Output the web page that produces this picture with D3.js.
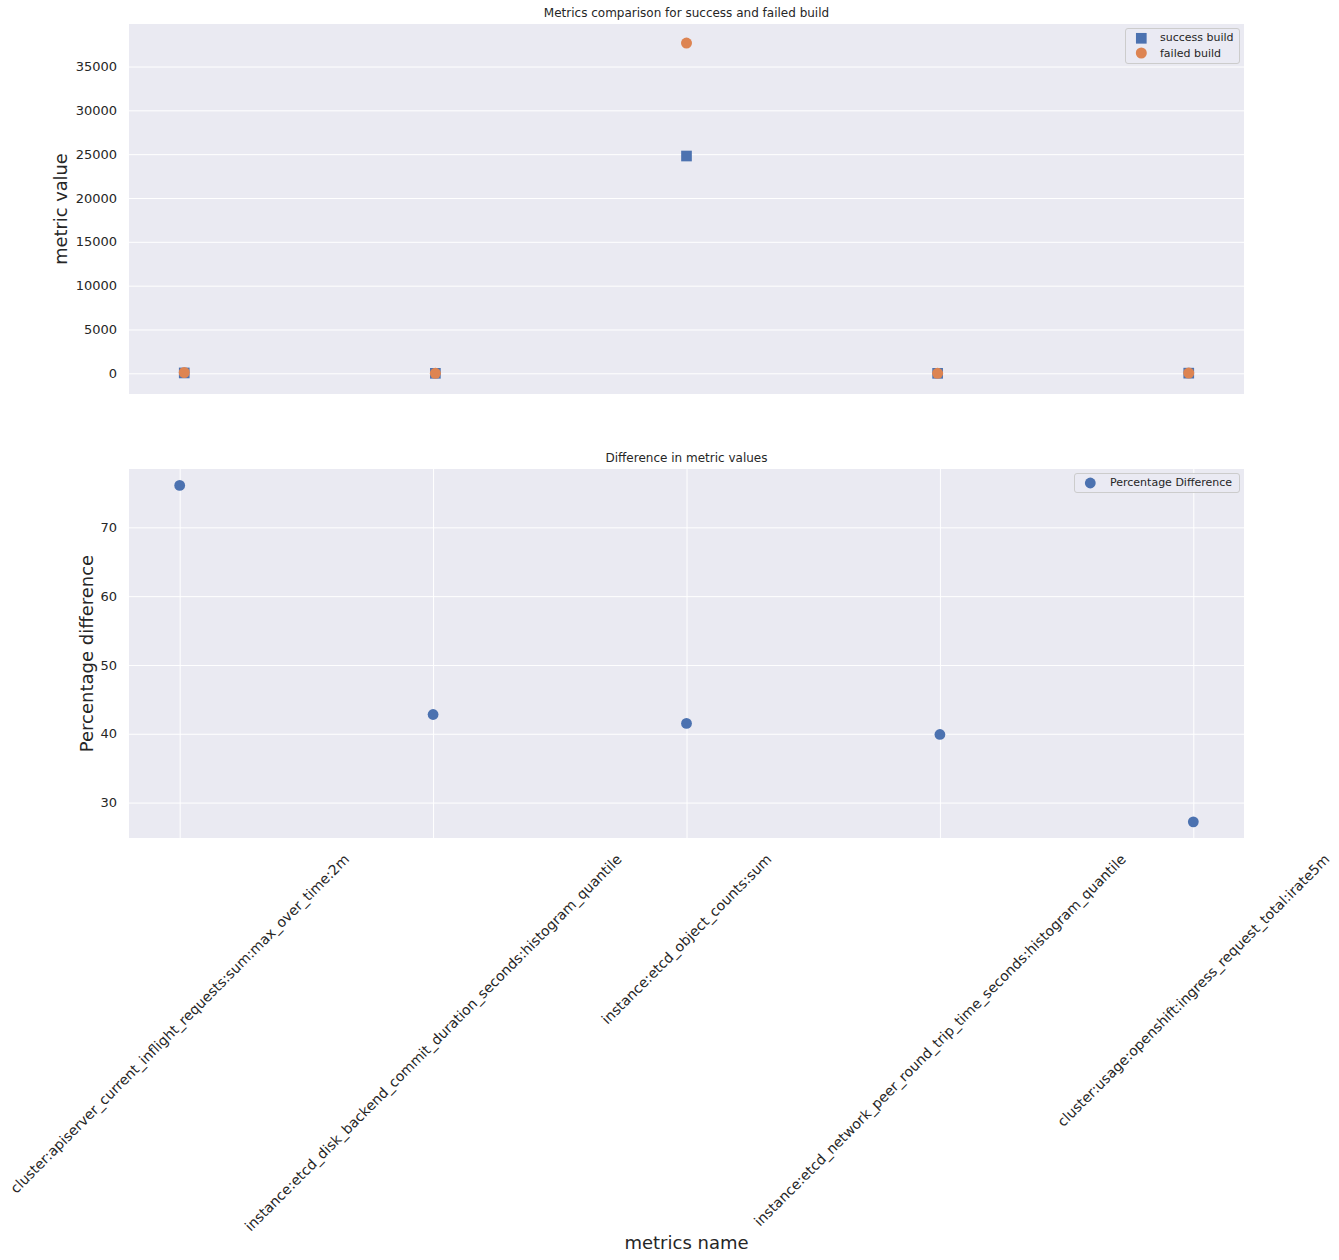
<!DOCTYPE html>
<html><head><meta charset="utf-8">
<script src="https://cdn.jsdelivr.net/npm/d3@7"></script>
<style>
body{margin:0;background:#fff}
text{font-family:"DejaVu Sans",sans-serif;fill:#262626}
</style>
</head><body>
<svg id="c" width="1339" height="1260"></svg>
<script>
const categories = [
  "cluster:apiserver_current_inflight_requests:sum:max_over_time:2m",
  "instance:etcd_disk_backend_commit_duration_seconds:histogram_quantile",
  "instance:etcd_object_counts:sum",
  "instance:etcd_network_peer_round_trip_time_seconds:histogram_quantile",
  "cluster:usage:openshift:ingress_request_total:irate5m"
];
const successValues = [42, 0.012, 24790, 0.009, 18];
const failedValues = [94, 0.019, 37680, 0.014, 24];
const percentDiff = [76.1, 42.8, 41.5, 39.9, 27.2];
const topTicks = [0, 5000, 10000, 15000, 20000, 25000, 30000, 35000];
const bottomTicks = [30, 40, 50, 60, 70];

const BLUE = "#4C72B0", ORANGE = "#DD8452", BG = "#EAEAF2";
const svg = d3.select("#c");
const L = 129, R = 1244;

// ---------- Top panel ----------
const t = {top: 24, bottom: 394};
const xT = d3.scaleLinear().domain([-0.22, 4.22]).range([L, R]);
const yT = d3.scaleLinear().domain([-2360, 39850]).range([t.bottom, t.top]);
svg.append("rect").attr("x", L).attr("y", t.top).attr("width", R - L).attr("height", t.bottom - t.top).attr("fill", BG);
const gyT = svg.append("g").attr("transform", `translate(${L},0)`)
  .call(d3.axisLeft(yT).tickValues(topTicks).tickSize(-(R - L)).tickPadding(12).tickFormat(d3.format("d")));
gyT.select(".domain").remove();
gyT.selectAll(".tick line").attr("stroke", "#fff").attr("stroke-width", 1);
gyT.selectAll(".tick text").attr("font-size", 13).attr("fill", "#262626").style("font-family", "DejaVu Sans");

svg.append("g").selectAll("path").data(successValues).join("path")
  .attr("d", d3.symbol(d3.symbolSquare, 114))
  .attr("transform", (d, i) => `translate(${xT(i)},${yT(d)})`)
  .attr("fill", BLUE);
svg.append("g").selectAll("circle").data(failedValues).join("circle")
  .attr("cx", (d, i) => xT(i)).attr("cy", d => yT(d)).attr("r", 5.5)
  .attr("fill", ORANGE);

svg.append("text").attr("x", (L + R) / 2).attr("y", 17).attr("text-anchor", "middle")
  .attr("font-size", 12).text("Metrics comparison for success and failed build");
svg.append("text").attr("transform", `translate(67,${(t.top + t.bottom) / 2}) rotate(-90)`)
  .attr("text-anchor", "middle").attr("font-size", 17.8).text("metric value");

// legend top
const lg = svg.append("g");
lg.append("rect").attr("x", 1125.5).attr("y", 28.5).attr("width", 114).attr("height", 35).attr("rx", 2.5)
  .attr("fill", BG).attr("fill-opacity", 0.8).attr("stroke", "#cccccc");
lg.append("path").attr("d", d3.symbol(d3.symbolSquare, 114)).attr("transform", "translate(1141.3,38.3)").attr("fill", BLUE);
lg.append("circle").attr("cx", 1141.3).attr("cy", 53).attr("r", 5.5).attr("fill", ORANGE);
lg.append("text").attr("x", 1160).attr("y", 37.5).attr("dy", "0.35em").attr("font-size", 11).text("success build");
lg.append("text").attr("x", 1160).attr("y", 53).attr("dy", "0.35em").attr("font-size", 11).text("failed build");

// ---------- Bottom panel ----------
const b = {top: 469, bottom: 838};
const xB = d3.scaleLinear().domain([-0.2, 4.2]).range([L, R]);
const yB = d3.scaleLinear().domain([24.85, 78.48]).range([b.bottom, b.top]);
svg.append("rect").attr("x", L).attr("y", b.top).attr("width", R - L).attr("height", b.bottom - b.top).attr("fill", BG);
const gyB = svg.append("g").attr("transform", `translate(${L},0)`)
  .call(d3.axisLeft(yB).tickValues(bottomTicks).tickSize(-(R - L)).tickPadding(12));
gyB.select(".domain").remove();
gyB.selectAll(".tick line").attr("stroke", "#fff").attr("stroke-width", 1);
gyB.selectAll(".tick text").attr("font-size", 13).attr("fill", "#262626").style("font-family", "DejaVu Sans");
const gxB = svg.append("g").attr("transform", `translate(0,${b.bottom})`)
  .call(d3.axisBottom(xB).tickValues(d3.range(categories.length)).tickSize(-(b.bottom - b.top)).tickFormat(""));
gxB.select(".domain").remove();
gxB.selectAll(".tick line").attr("stroke", "#fff").attr("stroke-width", 1);

svg.append("g").selectAll("circle").data(percentDiff).join("circle")
  .attr("cx", (d, i) => xB(i)).attr("cy", d => yB(d)).attr("r", 5.4).attr("fill", BLUE);

svg.append("text").attr("x", (L + R) / 2).attr("y", 462).attr("text-anchor", "middle")
  .attr("font-size", 12).text("Difference in metric values");
svg.append("text").attr("transform", `translate(93,${(b.top + b.bottom) / 2}) rotate(-90)`)
  .attr("text-anchor", "middle").attr("font-size", 18).text("Percentage difference");

// rotated category labels
const labTop = 851;
const lab = svg.append("g");
categories.forEach((c, i) => {
  const tx = lab.append("text").attr("font-size", 14).attr("text-anchor", "middle").attr("dominant-baseline", "central").text(c);
  const w = tx.node().getComputedTextLength();
  const h = 16;
  const half = (w + h) / (2 * Math.SQRT2);
  tx.attr("transform", `translate(${xB(i)},${labTop + half}) rotate(-45)`);
});

svg.append("text").attr("x", (L + R) / 2).attr("y", 1249).attr("text-anchor", "middle")
  .attr("font-size", 18).text("metrics name");

// legend bottom
const lb = svg.append("g");
lb.append("rect").attr("x", 1074.5).attr("y", 473.5).attr("width", 165).attr("height", 19).attr("rx", 2.5)
  .attr("fill", BG).attr("fill-opacity", 0.8).attr("stroke", "#cccccc");
lb.append("circle").attr("cx", 1090.3).attr("cy", 483).attr("r", 5.4).attr("fill", BLUE);
lb.append("text").attr("x", 1110).attr("y", 482.5).attr("dy", "0.35em").attr("font-size", 11).text("Percentage Difference");
</script>
</body></html>
